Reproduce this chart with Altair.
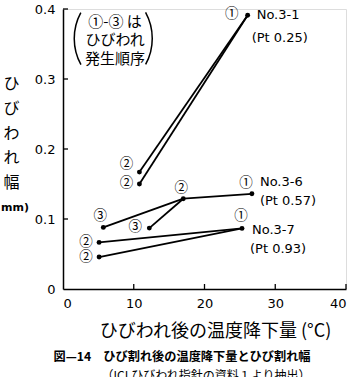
import altair as alt
import pandas as pd

# ---- data ----
pt_x = [26.1, 10.8, 10.8, 26.7, 17.0, 5.7, 12.2, 25.3, 5.1, 5.1]
pt_y = [0.391, 0.167, 0.150, 0.136, 0.129, 0.088, 0.087, 0.0866, 0.0666, 0.0457]
pt_order = ["①", "②", "②", "①", "②", "③", "③", "①", "②", "②"]
segments = [(0, 1), (0, 2), (3, 4), (4, 5), (4, 6), (7, 8), (7, 9)]
series_names = ["No.3-1", "No.3-6", "No.3-7"]
series_pt = ["(Pt  0.25)", "(Pt  0.57)", "(Pt  0.93)"]
series_head = [0, 3, 7]
x_ticks = [0, 10, 20, 30, 40]
y_ticks = [0, 0.1, 0.2, 0.3, 0.4]
note_lines = ["①-③ は", "ひびわれ", "発生順序"]
y_title = ["ひ", "び", "わ", "れ", "幅"]
y_unit = "mm)"
x_title = "ひびわれ後の温度降下量 (°C)"
caption1 = "図—14　ひび割れ後の温度降下量とひび割れ幅"
caption2 = "（ICLひびわれ指針の資料１より抽出）"

# ---- styling (pixel offsets of labels) ----
label_dx = [-16, -13, -13, -6, -2, -3, -14, -1, -13, -13]
label_dy = [-1, -8, -1, -11, -11, -11, -1, -12, 0, 0]
name_dx = [9, 8, 10]
name_dy = [0, -12, 2]
ptl_dx = [4, 8, 8]
ptl_dy = [23, 7, 21]

W, H = 283, 280
JP = "Noto Sans CJK JP"
LAT = "DejaVu Sans"
PXX = 40 / W     # data units per pixel, x
PXY = 0.4 / H    # data units per pixel, y

pts = pd.DataFrame({"x": pt_x, "y": pt_y, "order": pt_order,
                    "dx": label_dx, "dy": label_dy})
rows = []
for i, (a, b) in enumerate(segments):
    rows.append({"seg": i, "x": pt_x[a], "y": pt_y[a]})
    rows.append({"seg": i, "x": pt_x[b], "y": pt_y[b]})
segs = pd.DataFrame(rows)
ser = pd.DataFrame({
    "x": [pt_x[i] for i in series_head],
    "y": [pt_y[i] for i in series_head],
    "name": series_names, "pt": series_pt,
    "ndx": name_dx, "ndy": name_dy, "pdx": ptl_dx, "pdy": ptl_dy,
})

xs = alt.Scale(domain=[0, 40], nice=False, zero=False)
ys = alt.Scale(domain=[0, 0.4], nice=False, zero=False)

x_axis = alt.Axis(values=x_ticks, ticks=False, grid=False, labelPadding=8,
                  labelFont=LAT, labelFontSize=13, labelColor="black",
                  domainColor="black", domainWidth=1.5, format="d",
                  title=x_title, titleFont=JP, titleFontSize=18,
                  titleFontWeight="normal", titleColor="black",
                  titleX=152, titleY=42.5, titleBaseline="middle",
                  titleAlign="center")
y_axis = alt.Axis(values=y_ticks, ticks=False, grid=False, labelPadding=8,
                  labelFont=LAT, labelFontSize=13, labelColor="black",
                  domainColor="black", domainWidth=1.5,
                  labelExpr="datum.value == 0 ? '0' : format(datum.value, '.1f')",
                  title=y_title, titleFont=JP, titleFontSize=16,
                  titleFontWeight="normal", titleColor="black", titleAngle=0,
                  titleX=-52, titleY=66.5, titleBaseline="top",
                  titleAlign="center", titleLineHeight=24.8)

X = alt.X("x:Q", scale=xs, axis=x_axis)
Y = alt.Y("y:Q", scale=ys, axis=y_axis)
LX = alt.X("lx:Q", scale=xs, axis=x_axis)
LY = alt.Y("ly:Q", scale=ys, axis=y_axis)

lines = alt.Chart(segs).mark_line(color="black", strokeWidth=1.8).encode(
    x=X, y=Y, detail="seg:N")
dots = alt.Chart(pts).mark_circle(size=24, color="black", opacity=1).encode(
    x=X, y=Y)
labels = alt.Chart(pts).mark_text(font=JP, fontSize=13.5, color="black").transform_calculate(
    lx=f"datum.x + datum.dx * {PXX}", ly=f"datum.y - datum.dy * {PXY}"
).encode(x=LX, y=LY, text="order:N")
names = alt.Chart(ser).mark_text(font=LAT, fontSize=13, color="black",
                                 align="left", baseline="middle").transform_calculate(
    lx=f"datum.x + datum.ndx * {PXX}", ly=f"datum.y - datum.ndy * {PXY}"
).encode(x=LX, y=LY, text="name:N")
ptlab = alt.Chart(ser).mark_text(font=LAT, fontSize=13, color="black",
                                 align="left", baseline="middle").transform_calculate(
    lx=f"datum.x + datum.pdx * {PXX}", ly=f"datum.y - datum.pdy * {PXY}"
).encode(x=LX, y=LY, text="pt:N")

tk = pd.DataFrame({"x": x_ticks[1:]})
xt = alt.Chart(tk).mark_rule(color="black", strokeWidth=1.3).encode(
    x=X, y=alt.value(H), y2=alt.value(H - 5))
tky = pd.DataFrame({"y": y_ticks[1:]})
yt = alt.Chart(tky).mark_rule(color="black", strokeWidth=1.3).encode(
    y=Y, x=alt.value(0), x2=alt.value(5))

one = pd.DataFrame({"a": [0]})
note = alt.Chart(pd.DataFrame({"t": [note_lines]})).mark_text(
    font=JP, fontSize=15, color="black", lineHeight=18.8, baseline="middle",
    align="center").encode(text="t", x=alt.value(52), y=alt.value(12.7))
lpar = alt.Chart(one).mark_arc(radius=55, radius2=53.5, theta=4.21, theta2=5.21,
                               color="black").encode(x=alt.value(65.5), y=alt.value(29.5))
rpar = alt.Chart(one).mark_arc(radius=55, radius2=53.5, theta=1.07, theta2=2.07,
                               color="black").encode(x=alt.value(35), y=alt.value(29.5))
unit = alt.Chart(pd.DataFrame({"t": [y_unit]})).mark_text(
    font=LAT, fontSize=11, fontWeight="bold", color="black", align="left").encode(
    text="t", x=alt.value(-62), y=alt.value(198.5))

cap1 = alt.Chart(pd.DataFrame({"t": [caption1]})).mark_text(
    font=JP, fontSize=12.2, fontWeight="bold", color="black").encode(
    text="t", x=alt.value(119), y=alt.value(348))
cap2 = alt.Chart(pd.DataFrame({"t": [caption2]})).mark_text(
    font=JP, fontSize=12, color="black").encode(
    text="t", x=alt.value(143), y=alt.value(367))

chart = alt.layer(lines, xt, yt, dots, labels, names, ptlab, note, lpar, rpar,
                  unit, cap1, cap2).properties(
    width=W, height=H, autosize="none",
    padding={"left": 63, "top": 9, "right": 7, "bottom": 88},
).configure_view(stroke=None).configure(background="white")

chart.save("out.html", embed_options={"renderer": "svg", "actions": False})
